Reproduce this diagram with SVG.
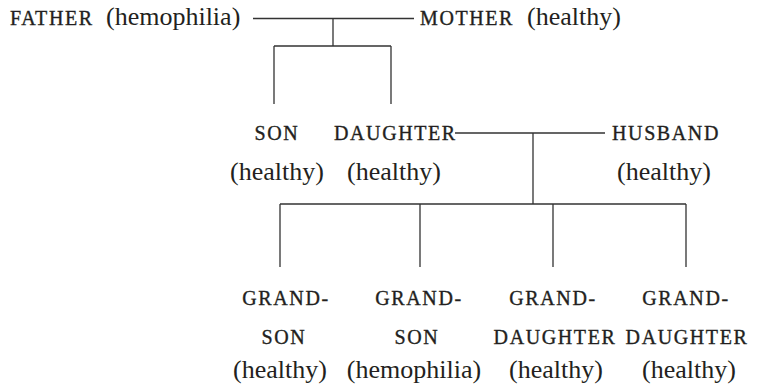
<svg xmlns="http://www.w3.org/2000/svg" width="779" height="389" viewBox="0 0 779 389">
<style>
.c{font-family:"Liberation Serif","DejaVu Serif",serif;font-size:20px;letter-spacing:1.6px;fill:#231f20;stroke:#231f20;stroke-width:0.35}
.l{font-family:"Liberation Serif","DejaVu Serif",serif;font-size:26px;fill:#231f20}
.m{text-anchor:middle}
#connectors path{fill:none;stroke:#333;stroke-width:1.3}
</style>
<rect width="779" height="389" fill="#fff"/>
<g id="connectors">
<path d="M253 18.5H414M333 18.5V46M274 46H391M274 46V104M391 46V104"/>
<path d="M455 133H605M533 133V204M280 204H686M280 204V267M420 204V267M553 204V267M686 204V267"/>
</g>
<g id="father"><text class="c" x="10" y="25">FATHER</text><text class="l" x="106" y="25">(hemophilia)</text></g>
<g id="mother"><text class="c" x="420" y="25">MOTHER</text><text class="l" x="527" y="25">(healthy)</text></g>
<g id="son"><text class="c m" x="277" y="140">SON</text><text class="l m" x="277" y="180">(healthy)</text></g>
<g id="daughter"><text class="c" x="334" y="140">DAUGHTER</text><text class="l m" x="394" y="180">(healthy)</text></g>
<g id="husband"><text class="c m" x="666" y="140">HUSBAND</text><text class="l m" x="664" y="180">(healthy)</text></g>
<g id="grandson1"><text class="c m" x="286" y="305">GRAND-</text><text class="c m" x="284" y="344">SON</text><text class="l m" x="280" y="378">(healthy)</text></g>
<g id="grandson2"><text class="c m" x="419" y="305">GRAND-</text><text class="c m" x="417" y="344">SON</text><text class="l m" x="414" y="378">(hemophilia)</text></g>
<g id="granddaughter1"><text class="c m" x="553" y="305">GRAND-</text><text class="c m" x="555" y="344">DAUGHTER</text><text class="l m" x="556" y="378">(healthy)</text></g>
<g id="granddaughter2"><text class="c m" x="686" y="305">GRAND-</text><text class="c m" x="687" y="344">DAUGHTER</text><text class="l m" x="689" y="378">(healthy)</text></g>
</svg>
